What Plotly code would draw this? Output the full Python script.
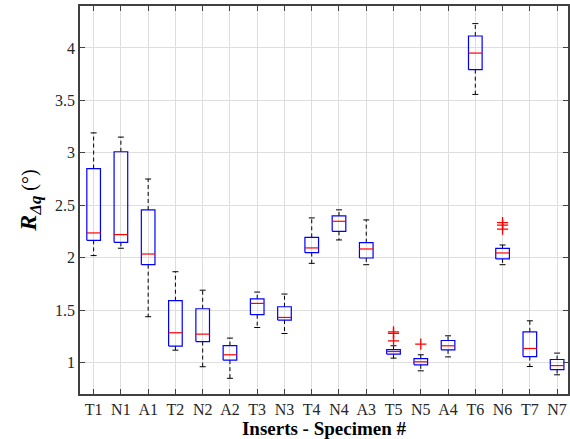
import plotly.graph_objects as go

labels = ["T1","N1","A1","T2","N2","A2","T3","N3","T4","N4","A3","T5","N5","A4","T6","N6","T7","N7"]
upper  = [3.19,3.15,2.75,1.866,1.69,1.233,1.672,1.653,2.379,2.456,2.36,1.16,1.074,1.255,4.232,2.121,1.398,1.09]
q3     = [2.85,3.01,2.455,1.59,1.513,1.162,1.608,1.532,2.194,2.398,2.143,1.124,1.038,1.21,4.114,2.089,1.293,1.029]
median = [2.236,2.22,2.035,1.284,1.271,1.074,1.564,1.43,2.093,2.347,2.083,1.105,1.007,1.16,3.951,2.045,1.134,0.971]
q1     = [2.165,2.146,1.933,1.157,1.2,1.023,1.456,1.405,2.048,2.251,1.997,1.08,0.978,1.121,3.793,1.988,1.057,0.933]
lower  = [2.02,2.09,1.437,1.118,0.96,0.85,1.334,1.277,1.946,2.169,1.933,1.042,0.921,1.054,3.557,1.933,0.962,0.883]
outlier_cat = ["T5","T5","T5","N5","N6","N6","N6"]
outlier_val = [1.292,1.278,1.207,1.176,2.335,2.31,2.272]

pos = {lab: i + 1 for i, lab in enumerate(labels)}
hw, cw = 0.25, 0.11

bx, by, mx, my, wx, wy, cx, cy = [], [], [], [], [], [], [], []
for i, lab in enumerate(labels):
    p = i + 1
    bx += [p - hw, p + hw, p + hw, p - hw, p - hw, None]
    by += [q1[i], q1[i], q3[i], q3[i], q1[i], None]
    mx += [p - hw, p + hw, None]
    my += [median[i], median[i], None]
    wx += [p, p, None, p, p, None]
    wy += [q3[i], upper[i], None, q1[i], lower[i], None]
    cx += [p - cw, p + cw, None, p - cw, p + cw, None]
    cy += [upper[i], upper[i], None, lower[i], lower[i], None]

fig = go.Figure()
fig.add_trace(go.Scatter(x=wx, y=wy, mode="lines", line=dict(color="black", width=1, dash="4px,3px"), hoverinfo="skip"))
fig.add_trace(go.Scatter(x=cx, y=cy, mode="lines", line=dict(color="black", width=1), hoverinfo="skip"))
fig.add_trace(go.Scatter(x=bx, y=by, mode="lines", line=dict(color="#0000ff", width=1.2), hoverinfo="skip"))
fig.add_trace(go.Scatter(x=mx, y=my, mode="lines", line=dict(color="#ff0000", width=1.2), hoverinfo="skip"))
fig.add_trace(go.Scatter(x=[pos[c] for c in outlier_cat], y=outlier_val, mode="markers",
                         marker=dict(symbol="cross-thin-open", size=8, color="#ff0000",
                                     line=dict(color="#ff0000", width=1.3)),
                         hoverinfo="skip"))

font_family = "'Liberation Serif', 'Times New Roman', serif"
fig.update_layout(
    width=570, height=439,
    margin=dict(l=80, r=0, t=6, b=45),
    paper_bgcolor="white", plot_bgcolor="white",
    showlegend=False,
    font=dict(family=font_family, color="#262626", size=16),
    xaxis=dict(
        range=[0.5, 18.4], tickmode="array", tickvals=list(range(1, 19)), ticktext=labels,
        showgrid=True, gridcolor="#dedede", gridwidth=1,
        showline=True, linecolor="#404040", linewidth=1.5, mirror="ticks",
        ticks="inside", ticklen=5, tickcolor="#404040",
        tickfont=dict(size=16, family=font_family, color="#262626"),
        title=dict(text="<b>Inserts - Specimen #</b>", font=dict(size=19, family=font_family, color="black"), standoff=2),
        zeroline=False,
    ),
    yaxis=dict(
        range=[0.7, 4.4], tickmode="array", tickvals=[1, 1.5, 2, 2.5, 3, 3.5, 4],
        ticktext=["1", "1.5", "2", "2.5", "3", "3.5", "4"],
        showgrid=True, gridcolor="#dedede", gridwidth=1,
        showline=True, linecolor="#404040", linewidth=1.5, mirror="ticks",
        ticks="inside", ticklen=5, tickcolor="#404040",
        tickfont=dict(size=16, family=font_family, color="#262626"),
        title=dict(text="<b><i>R</i></b><sub><b><i>Δq</i></b></sub><span style='font-size:20px'> (°)</span>",
                   font=dict(size=24, family=font_family, color="black"), standoff=12),
        zeroline=False,
    ),
)

fig.write_html("out.html")
